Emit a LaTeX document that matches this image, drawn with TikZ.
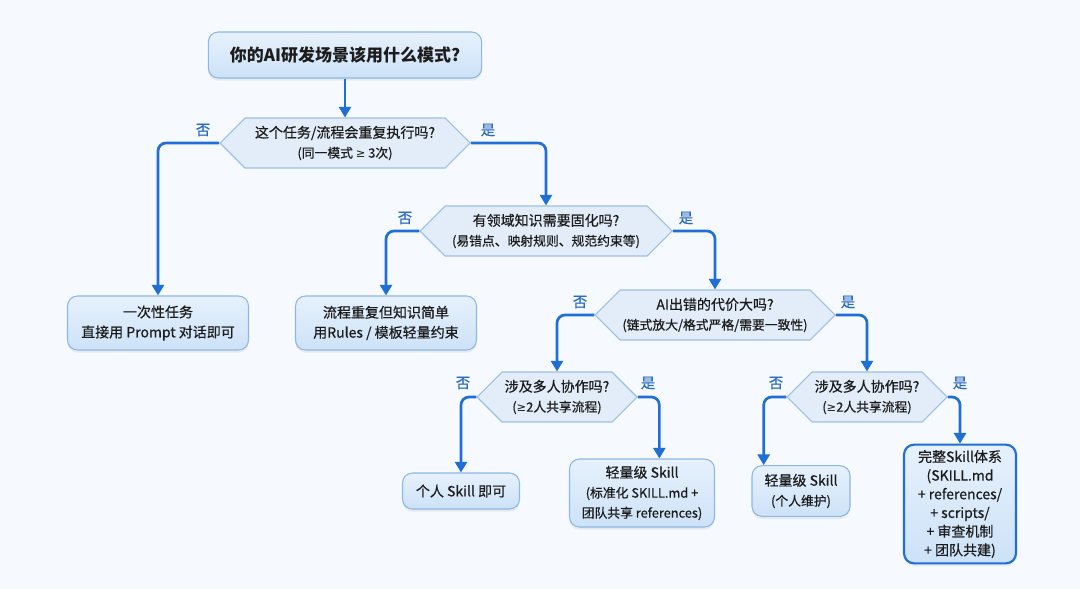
\documentclass[tikz,border=0pt]{standalone}
\usepackage{fontspec}
\setmainfont{Noto Sans CJK SC}[UprightFeatures={FakeBold=0.6}]
\newfontfamily\symfont{DejaVu Sans}
\usetikzlibrary{shapes.symbols,arrows.meta,shadows}
\definecolor{flowblue}{HTML}{1F6FD6}
\definecolor{lblblue}{HTML}{2A6BC0}
\definecolor{hexfill}{HTML}{E2EDF9}
\definecolor{hexline}{HTML}{9DBFE4}
\definecolor{boxtop}{HTML}{E6F1FC}
\definecolor{boxbot}{HTML}{CDE2F8}
\definecolor{boxline}{HTML}{8DB7E4}
\definecolor{bgfill}{HTML}{F6F9FD}
\definecolor{inktext}{HTML}{1C1C1C}
\newcommand\subline[1]{{\fontsize{9.6}{13}\selectfont #1}}
\newcommand\atleast{{\symfont\fontsize{8.6}{13}\selectfont ≥}}
\tikzset{
  decision/.style={signal, signal to=west and east, signal pointer angle=90,
    draw=hexline, fill=hexfill, line width=0.8pt, minimum height=37.5pt,
    inner sep=1pt, align=center, text=inktext,
    font=\fontsize{10.5}{15}\selectfont},
  outcome/.style={rounded corners=7.5pt, draw=boxline, top color=boxtop,
    bottom color=boxbot, line width=0.8pt, align=center, text=inktext,
    inner sep=2pt, font=\fontsize{10.5}{15}\selectfont,
    drop shadow={opacity=0.12, shadow xshift=0pt, shadow yshift=-2pt}},
  flow/.style={draw=flowblue, line width=2pt, rounded corners=6pt,
    -{Triangle[width=9pt,length=8pt]}},
  lbl/.style={text=lblblue, font=\fontsize{10.8}{12}\selectfont}
}
\begin{document}
\begin{tikzpicture}[x=0.75pt,y=0.75pt,yscale=-1,xscale=1]
  \useasboundingbox (0,0) rectangle (1080,589);
  \fill[bgfill] (0,0) rectangle (1080,589);
  % title
  \node[outcome, minimum width=205pt, minimum height=34.5pt,
    font=\fontsize{12.75}{15}\selectfont\bfseries] (q0) at (345,55) {你的AI研发场景该用什么模式?};
  % decisions
  \node[decision, minimum width=187.5pt] (d1) at (345,143) {这个任务/流程会重复执行吗?\\\subline{(同一模式 \atleast\ 3次)}};
  \node[decision, minimum width=189pt] (d2) at (546,231) {有领域知识需要固化吗?\\\subline{(易错点、映射规则、规范约束等)}};
  \node[decision, minimum width=180pt] (d3) at (715,315) {AI出错的代价大吗?\\\subline{(链式放大/格式严格/需要一致性)}};
  \node[decision, minimum width=120pt] (d4) at (557,397) {涉及多人协作吗?\\\subline{(\atleast2人共享流程)}};
  \node[decision, minimum width=120pt] (d5) at (867,397) {涉及多人协作吗?\\\subline{(\atleast2人共享流程)}};
  % outcomes
  \node[outcome, minimum width=135.75pt, minimum height=40.5pt] (b1) at (158,323) {一次性任务\\直接用 Prompt 对话即可};
  \node[outcome, minimum width=135.75pt, minimum height=40.5pt] (b2) at (386,323) {流程重复但知识简单\\用Rules / 模板轻量约束};
  \node[outcome, minimum width=87.75pt, minimum height=27pt] (b3) at (461,491) {个人 Skill 即可};
  \node[outcome, minimum width=108.75pt, minimum height=51pt] (b4) at (642,493) {轻量级 Skill\\\subline{(标准化 SKILL.md +}\\\subline{团队共享 references)}};
  \node[outcome, minimum width=73.5pt, minimum height=38pt] (b5) at (801,491) {轻量级 Skill\\\subline{(个人维护)}};
  \node[outcome, draw=flowblue, line width=1.6pt, minimum width=84pt, minimum height=89pt,
    font=\fontsize{10.5}{14}\selectfont] (b6) at (960,504) {完整Skill体系\\(SKILL.md\\+ references/\\+ scripts/\\+ 审查机制\\+ 团队共建)};
  % connectors
  \draw[flow] (q0.south) -- (d1.north);
  \draw[flow] (d1.west) -| (b1.north);
  \draw[flow] (d1.east) -| (d2.north);
  \draw[flow] (d2.west) -| (b2.north);
  \draw[flow] (d2.east) -| (d3.north);
  \draw[flow] (d3.west) -| (d4.north);
  \draw[flow] (d3.east) -| (d5.north);
  \draw[flow] (d4.west) -| (b3.north);
  \draw[flow] (d4.east) -| ([xshift=13]b4.north);
  \draw[flow] (d5.west) -| ([xshift=-28]b5.north);
  \draw[flow] (d5.east) -| (b6.north);
  % branch labels
  \node[lbl] (n1) at (203,130) {否};
  \node[lbl] (y1) at (488,130) {是};
  \node[lbl] (n2) at (405,218) {否};
  \node[lbl] (y2) at (686,218) {是};
  \node[lbl] (n3) at (580,302) {否};
  \node[lbl] (y3) at (848,302) {是};
  \node[lbl] (n4) at (463,383) {否};
  \node[lbl] (y4) at (648,383) {是};
  \node[lbl] (n5) at (776,383) {否};
  \node[lbl] (y5) at (960,383) {是};
\end{tikzpicture}
\end{document}
